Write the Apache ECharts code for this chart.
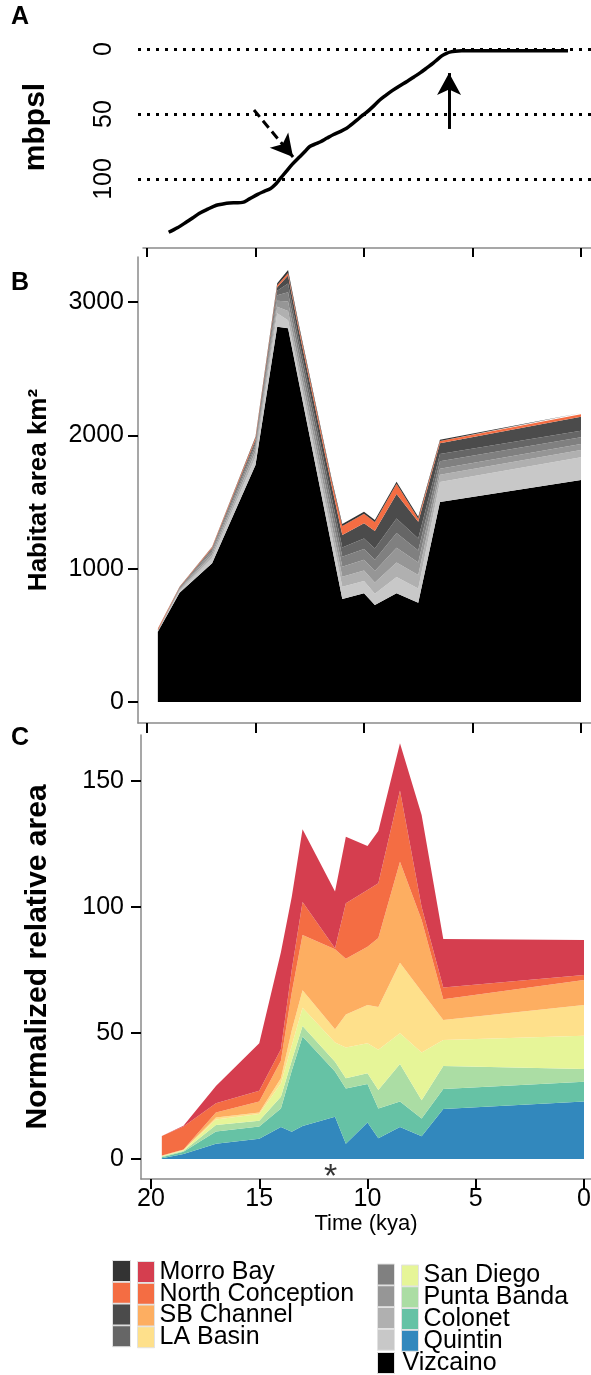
<!DOCTYPE html>
<html>
<head>
<meta charset="utf-8">
<script src="https://cdn.jsdelivr.net/npm/echarts@6.0.0/dist/echarts.min.js"></script>
<style>
  html, body { margin: 0; padding: 0; background: #fff; }
  #chart { width: 591px; height: 1375px; }
</style>
</head>
<body>
<div id="chart"></div>
<script>
const FONT = '"Liberation Sans", Arial, Helvetica, sans-serif';

// time points of the habitat reconstructions (kya)
const times = [19.5, 18.5, 17, 15, 14, 13.5, 13, 11.5, 11, 10, 9.5, 8.5, 7.5, 6.5, 0];
const timeTicks = [0, 5, 10, 15, 20];

// A: sea level, metres below present sea level
const seaTime = [19.0, 18.6, 18.2, 17.9, 17.6, 17.2, 16.8, 16.5, 16.2, 15.9, 15.6, 15.3, 14.9, 14.6, 14.3, 14.1,
  13.9, 13.6, 13.3, 13.0, 12.7, 12.5, 12.2, 12.0, 11.7, 11.4, 11.1, 10.8, 10.6, 10.3, 10.1, 9.9, 9.6, 9.3, 9.0,
  8.7, 8.4, 8.0, 7.7, 7.4, 7.1, 6.8, 6.6, 6.4, 6.2, 6.0, 5.8, 5.5, 4.0, 2.0, 0.6];
const seaDepth = [141, 137.5, 133.3, 130, 126.5, 123.2, 120.2, 119.2, 118.5, 118.3, 118, 115.5, 111.8, 109.5, 107.3, 104.5,
  100.5, 94.5, 88.6, 83.5, 78.5, 75, 72.8, 71.3, 68.5, 65.8, 63.5, 61, 58.3, 54.3, 51.5, 49, 44.5, 39.6, 35.7,
  32, 28.8, 24.8, 21.5, 18.2, 14.5, 10.7, 7.8, 5.1, 3.3, 2.2, 1.7, 1.4, 1.3, 1.3, 1.3];
const seaTicks = [0, 50, 100];
const arrowDashed = [[15.07, 46.9], [13.27, 83.1]];
const arrowSolid = [[6.08, 61.5], [6.08, 18.5]];

// B: habitat area km2 (stacked, bottom to top)
const namesB = ['Vizcaino', 'Quintin', 'Colonet', 'Punta Banda', 'San Diego', 'LA Basin', 'SB Channel', 'North Conception', 'Morro Bay'];
const greysB = ['#000000', '#c8c8c8', '#b0b0b0', '#969696', '#808080', '#666666', '#4b4b4b', '#f46d43', '#333333'];
const areaVizcaino = [527, 820, 1040, 1777, 2815, 2803, 2397, 1178, 772, 816, 727, 815, 745, 1500, 1665];
const areaQuintin = [3, 12, 40, 60, 100, 60, 65, 85, 93, 91, 85, 122, 107, 150, 170];
const areaColonet = [2, 8, 25, 40, 50, 70, 65, 72, 75, 80, 85, 110, 100, 55, 55];
const areaPuntaBanda = [2, 6, 20, 30, 45, 70, 65, 72, 75, 80, 85, 110, 95, 45, 45];
const areaSanDiego = [2, 5, 15, 25, 40, 70, 65, 72, 75, 80, 85, 110, 90, 55, 50];
const areaLABasin = [1, 4, 10, 20, 35, 65, 60, 65, 68, 80, 85, 110, 90, 55, 50];
const areaSBChannel = [1, 3, 5, 15, 25, 60, 70, 85, 94, 113, 130, 183, 125, 80, 105];
const areaNorthConception = [12, 5, 7, 15, 15, 20, 25, 36, 68, 72, 68, 77, 23, 17, 18];
const areaMorroBay = [2, 2, 3, 8, 15, 22, 18, 15, 15, 15, 15, 15, 15, 10, 10];
const areaTicks = [0, 1000, 2000, 3000];

// C: normalized relative area (stacked, bottom to top)
const namesC = ['Quintin', 'Colonet', 'Punta Banda', 'San Diego', 'LA Basin', 'SB Channel', 'North Conception', 'Morro Bay'];
const colorsC = ['#3288bd', '#66c2a5', '#abdda4', '#e6f598', '#fee08b', '#fdae61', '#f46d43', '#d53e4f'];
const relQuintin = [0.3, 2, 6, 8, 12.7, 10.8, 13.1, 16.8, 6, 14.5, 8.2, 12.7, 9, 19.8, 22.8];
const relColonet = [0.4, 0.9, 4.9, 4.9, 7.3, 24.2, 35.5, 17.9, 22, 15.3, 11.8, 10.1, 7.1, 8, 7.9];
const relPuntaBanda = [0.3, 0.3, 2.6, 2.3, 4.7, 4, 4.2, 3.9, 4, 4.2, 7.4, 14.9, 7.2, 9.1, 5];
const relSanDiego = [0.2, 0.3, 2.2, 2.7, 5.3, 6, 7.2, 7.6, 12.2, 11.9, 15.9, 12.2, 19, 10.3, 13.2];
const relLABasin = [0.1, 0.2, 0.8, 0.5, 2, 6, 7, 5.3, 13.1, 15.2, 17, 28, 24.2, 8, 12.2];
const relSBChannel = [0.1, 0.1, 1.9, 4.4, 7, 15, 21.9, 31.7, 22.2, 23.1, 27.4, 40.1, 28.3, 8.2, 9.9];
const relNorthConception = [7.7, 9.1, 3.7, 4.3, 4.5, 9, 13.1, 0.4, 22, 22.5, 21.7, 28.2, 5.2, 4.7, 2];
const relMorroBay = [0, 0.3, 6.9, 18.8, 38.5, 29, 28.8, 22.5, 26.4, 17.5, 20.8, 18.8, 36.5, 19.2, 13.9];
const relTicks = [0, 50, 100, 150];
const starPoint = [11.7, -7.2];

const chart = echarts.init(document.getElementById('chart'));

const greyLine = { show: true, onZero: false, lineStyle: { color: '#8a8a8a', width: 1.5 } };
const blackTick = (vals, len) => ({ show: true, length: len, customValues: vals, lineStyle: { color: '#000', width: 2 } });
const tickFont = { fontFamily: FONT, fontSize: 25, color: '#000', formatter: v => String(v) };
const titleFont = size => ({ fontFamily: FONT, fontSize: size, fontWeight: 'bold', color: '#000' });

// value/value axes stack on the first dimension, so keep the value first and map it to y
function stacked(names, colors, values, axis, stackId) {
  return names.map((name, k) => ({
    type: 'line', name: name, stack: stackId, xAxisIndex: axis, yAxisIndex: axis,
    data: times.map((t, i) => [values[k][i], t]),
    encode: { x: 1, y: 0 },
    symbol: 'none', silent: true,
    lineStyle: { width: 0 },
    itemStyle: { color: colors[k] },
    areaStyle: { color: colors[k], opacity: 1 }
  }));
}

function legend(names, colors, left, top, width, gap, showText, textPad) {
  return {
    orient: 'vertical', left: left, top: top, height: 160, padding: 0, itemGap: gap,
    itemWidth: width, itemHeight: 21, icon: 'rect', selectedMode: false,
    itemStyle: { borderColor: '#e2e2e2', borderWidth: 1 },
    textStyle: { fontFamily: FONT, fontSize: 25, color: '#000', padding: [0, 0, 0, textPad || 0] },
    formatter: name => showText(name) ? name : '',
    data: names.map((n, i) => ({ name: n, itemStyle: { color: colors[i] } }))
  };
}

const letter = (text, top) => ({ text: text, left: 11, top: top, padding: 0,
  textStyle: { fontFamily: FONT, fontSize: 25, fontWeight: 'bold', color: '#000' } });

const option = {
  animation: false,
  backgroundColor: '#fff',
  title: [letter('A', 5), letter('B', 271), letter('C', 726)],
  grid: [
    { left: 133, right: 0, top: 6, height: 242, outerBoundsMode: 'none' },   // A curve + dotted lines
    { left: 143, right: 0, top: 6, height: 242, outerBoundsMode: 'none' },   // A time axis
    { left: 138, right: 0, top: 257, height: 466, outerBoundsMode: 'none' }, // B
    { left: 141, right: 0, top: 735, height: 444, outerBoundsMode: 'none' }  // C
  ],
  xAxis: [
    { gridIndex: 0, type: 'value', inverse: true, min: -0.461, max: 20.645, show: false },
    { gridIndex: 1, type: 'value', inverse: true, min: -0.461, max: 20.184, axisLine: greyLine,
      axisTick: blackTick(timeTicks, 9), axisLabel: { show: false }, splitLine: { show: false } },
    { gridIndex: 2, type: 'value', inverse: true, min: -0.461, max: 20.415, axisLine: greyLine,
      axisTick: blackTick(timeTicks, 10), axisLabel: { show: false }, splitLine: { show: false } },
    { gridIndex: 3, type: 'value', inverse: true, min: -0.323, max: 20.462, axisLine: greyLine,
      axisTick: blackTick(timeTicks, 10),
      axisLabel: Object.assign({ customValues: timeTicks, margin: 8 }, tickFont),
      splitLine: { show: false },
      name: 'Time (kya)', nameLocation: 'middle', nameGap: 31,
      nameTextStyle: { fontFamily: FONT, fontSize: 22, color: '#000' } }
  ],
  yAxis: [
    { gridIndex: 0, type: 'value', inverse: true, min: -33.08, max: 153.08,
      axisLine: { show: false, onZero: false }, axisTick: { show: false }, splitLine: { show: false },
      axisLabel: Object.assign({ customValues: seaTicks, rotate: 90, margin: 16 }, tickFont),
      name: 'mbpsl', nameLocation: 'middle', nameGap: 82, nameTextStyle: titleFont(30) },
    { gridIndex: 1, type: 'value', min: 0, max: 1, show: false },
    { gridIndex: 2, type: 'value', min: -157.5, max: 3337.5, axisLine: greyLine,
      axisTick: blackTick(areaTicks, 10), splitLine: { show: false },
      axisLabel: Object.assign({ customValues: areaTicks, margin: 14 }, tickFont),
      name: 'Habitat area km²', nameLocation: 'middle', nameGap: 86, nameTextStyle: titleFont(26) },
    { gridIndex: 3, type: 'value', min: -7.94, max: 168.25, axisLine: greyLine,
      axisTick: blackTick(relTicks, 10), splitLine: { show: false },
      axisLabel: Object.assign({ customValues: relTicks, margin: 17 }, tickFont),
      name: 'Normalized relative area', nameLocation: 'middle', nameGap: 88, nameTextStyle: titleFont(30) }
  ],
  legend: [
    legend(['Morro Bay', 'North Conception', 'SB Channel', 'LA Basin'],
      ['#333333', '#f46d43', '#4b4b4b', '#666666'], 112, 1260, 18, -0.25, () => false),
    legend(['Morro Bay', 'North Conception', 'SB Channel', 'LA Basin'],
      ['#d53e4f', '#f46d43', '#fdae61', '#fee08b'], 137, 1259.5, 17, -3.25, () => true),
    legend(['San Diego', 'Punta Banda', 'Colonet', 'Quintin', 'Vizcaino'],
      ['#808080', '#969696', '#b0b0b0', '#c8c8c8', '#000000'], 377, 1263.5, 17, -0.25, n => n === 'Vizcaino', 3),
    legend(['San Diego', 'Punta Banda', 'Colonet', 'Quintin'],
      ['#e6f598', '#abdda4', '#66c2a5', '#3288bd'], 401, 1263, 17, -3.25, () => true)
  ],
  series: [
    {
      type: 'line', xAxisIndex: 0, yAxisIndex: 0, silent: true,
      data: seaTime.map((t, i) => [t, seaDepth[i]]),
      symbol: 'none', smooth: 0.3,
      lineStyle: { color: '#000', width: 3.5 },
      markLine: {
        silent: true, symbol: ['none', 'none'], label: { show: false },
        data: seaTicks.map(v => ({ yAxis: v, lineStyle: { type: [3, 6], width: 3, color: '#000' } })).concat([
          [{ coord: arrowDashed[0], lineStyle: { type: [9, 5], width: 3, color: '#000' } },
           { coord: arrowDashed[1], symbol: 'arrow', symbolSize: [18, 22] }],
          [{ coord: arrowSolid[0], lineStyle: { type: 'solid', width: 3, color: '#000' } },
           { coord: arrowSolid[1], symbol: 'arrow', symbolSize: [18, 22] }]
        ])
      }
    },
    ...stacked(namesB, greysB, [areaVizcaino, areaQuintin, areaColonet, areaPuntaBanda, areaSanDiego,
      areaLABasin, areaSBChannel, areaNorthConception, areaMorroBay], 2, 'habitat'),
    ...stacked(namesC, colorsC, [relQuintin, relColonet, relPuntaBanda, relSanDiego, relLABasin,
      relSBChannel, relNorthConception, relMorroBay], 3, 'relative'),
    {
      type: 'scatter', xAxisIndex: 3, yAxisIndex: 3, silent: true, symbolSize: 0,
      data: [starPoint],
      label: { show: true, position: 'inside', formatter: '*', fontFamily: FONT, fontSize: 34, color: '#000' }
    }
  ]
};

chart.setOption(option);
</script>
</body>
</html>
